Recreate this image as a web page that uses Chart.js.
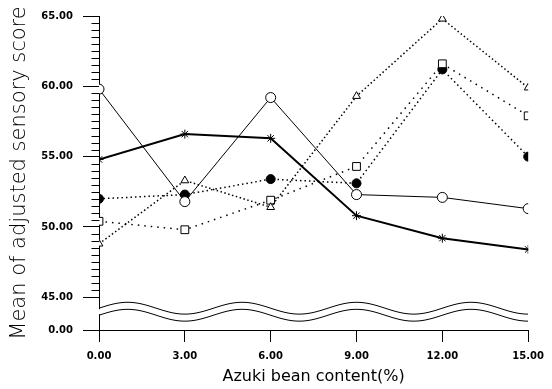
<!DOCTYPE html>
<html><head><meta charset="utf-8">
<script src="https://cdn.jsdelivr.net/npm/chart.js@4.4.0/dist/chart.umd.min.js"></script>
<style>html,body{margin:0;padding:0;background:#fff}canvas{display:block}</style>
</head><body>
<canvas id="c" width="552" height="389"></canvas>
<script>
// ---- data ----
const xValues = [0, 3, 6, 9, 12, 15];
const xTickLabels = ['0.00', '3.00', '6.00', '9.00', '12.00', '15.00'];
const yBreakBase = 42.67;            // position of the "0.00" tick below the axis break
const yTickValues = [yBreakBase, 45, 50, 55, 60, 65];
const yTickLabels = ['0.00', '45.00', '50.00', '55.00', '60.00', '65.00'];

const openCircle   = [59.8, 51.8, 59.2, 52.3, 52.1, 51.3];
const asterisk     = [54.8, 56.6, 56.3, 50.8, 49.2, 48.4];
const triangle     = [48.8, 53.3, 51.4, 59.3, 64.8, 59.9];
const square       = [50.4, 49.8, 51.9, 54.3, 61.6, 57.9];
const filledCircle = [52.0, 52.3, 53.4, 53.1, 61.2, 55.0];

const toPts = arr => arr.map((v, i) => ({x: xValues[i], y: v}));

// axis break decoration (style constants)
const waveMid = 44.22, waveAmp = 0.42, waveGap = 0.5, wavePeriod = 4;

const TICK_FONT = {family: 'DejaVu Sans', size: 10, weight: 'bold'};

const axisPlugin = {
  id: 'axisDecor',
  afterDraw(chart) {
    const {ctx, chartArea, scales: {x, y}} = chart;
    const ax = Math.round(chartArea.left) + 0.5;
    ctx.save();
    ctx.strokeStyle = '#000';
    ctx.lineWidth = 1;
    // minor ticks
    ctx.beginPath();
    for (let v = 45.5; v < 65; v += 0.5) {
      if (Math.abs(v / 5 - Math.round(v / 5)) < 1e-6) continue;
      const py = Math.round(y.getPixelForValue(v)) + 0.5;
      ctx.moveTo(ax - 8, py); ctx.lineTo(ax, py);
    }
    ctx.stroke();
    // gap in the y axis between break lines
    const up0 = y.getPixelForValue(waveMid);
    const lo0 = y.getPixelForValue(waveMid - waveGap);
    ctx.fillStyle = '#fff';
    ctx.fillRect(ax - 2, up0 + 1, 4, lo0 - up0 - 2);
    // wavy break lines
    [0, waveGap].forEach(off => {
      ctx.beginPath();
      for (let px = chartArea.left; px <= chartArea.right; px += 1) {
        const xv = x.getValueForPixel(px);
        const yv = waveMid - off + waveAmp * Math.sin(2 * Math.PI * xv / wavePeriod);
        const py = y.getPixelForValue(yv);
        if (px === chartArea.left) ctx.moveTo(px, py); else ctx.lineTo(px, py);
      }
      ctx.stroke();
    });
    ctx.restore();
  }
};

new Chart(document.getElementById('c'), {
  type: 'line',
  data: {
    datasets: [
      {data: toPts(openCircle), borderColor: '#000', borderWidth: 1, pointStyle: 'circle', pointRadius: 5,
       pointBackgroundColor: '#fff', pointBorderColor: '#000', pointBorderWidth: 1},
      {data: toPts(asterisk), borderColor: '#000', borderWidth: 2, pointStyle: 'star', pointRadius: 4.5,
       pointBackgroundColor: '#000', pointBorderColor: '#000', pointBorderWidth: 1},
      {data: toPts(triangle), borderColor: '#000', borderWidth: 1.5, borderDash: [1.5, 2.5], pointStyle: 'triangle', pointRadius: 4.5,
       pointBackgroundColor: '#fff', pointBorderColor: '#000', pointBorderWidth: 1},
      {data: toPts(square), borderColor: '#000', borderWidth: 1.5, borderDash: [1.5, 5], pointStyle: 'rect', pointRadius: 5.5,
       pointBackgroundColor: '#fff', pointBorderColor: '#000', pointBorderWidth: 1},
      {data: toPts(filledCircle), borderColor: '#000', borderWidth: 1.5, borderDash: [1.5, 3], pointStyle: 'circle', pointRadius: 4.5,
       pointBackgroundColor: '#000', pointBorderColor: '#000', pointBorderWidth: 1}
    ]
  },
  options: {
    responsive: false,
    animation: false,
    devicePixelRatio: 1,
    layout: {padding: {top: 14, right: 15, left: 0, bottom: 0}},
    elements: {line: {tension: 0, fill: false}},
    plugins: {legend: {display: false}, tooltip: {enabled: false}},
    scales: {
      x: {
        type: 'linear', min: 0, max: 15,
        afterBuildTicks: s => { s.ticks = xValues.map(v => ({value: v})); },
        ticks: {callback: (v, i) => xTickLabels[i], font: TICK_FONT, color: '#000', padding: 8, maxRotation: 0, autoSkip: false},
        grid: {drawOnChartArea: false, drawTicks: true, tickLength: 12, color: '#000', lineWidth: 1},
        border: {display: true, color: '#000', width: 1},
        title: {display: true, text: 'Azuki bean content(%)', color: '#000',
                font: {family: 'DejaVu Sans', size: 16}, padding: {top: 0, bottom: 3}},
        afterFit: s => { s.height = 59; }
      },
      y: {
        type: 'linear', min: yBreakBase, max: 65,
        afterBuildTicks: s => { s.ticks = yTickValues.map(v => ({value: v})); },
        ticks: {callback: (v, i) => yTickLabels[i], font: TICK_FONT, color: '#000', padding: 10, autoSkip: false},
        grid: {drawOnChartArea: false, drawTicks: true, tickLength: 16, color: '#000', lineWidth: 1},
        border: {display: true, color: '#000', width: 1},
        title: {display: true, text: 'Mean of adjusted sensory score', color: '#000',
                font: {family: 'DejaVu Sans', size: 21, weight: '200'}, padding: {top: 7, bottom: 0}},
        afterFit: s => { s.width = 99; }
      }
    }
  },
  plugins: [axisPlugin]
});
</script>
</body></html>
